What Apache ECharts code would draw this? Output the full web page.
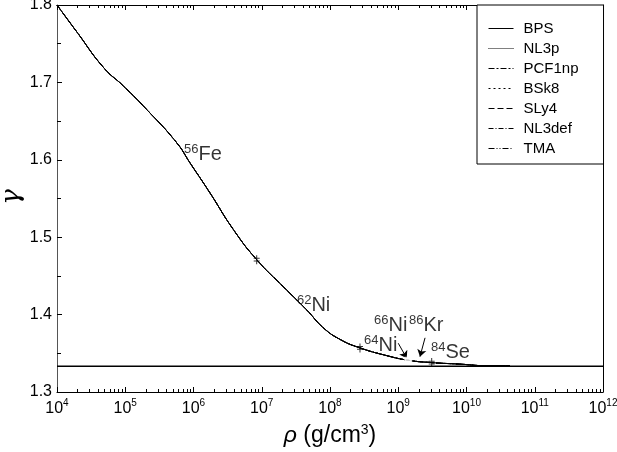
<!DOCTYPE html>
<html>
<head>
<meta charset="utf-8">
<script src="https://cdn.jsdelivr.net/npm/echarts@6/dist/echarts.min.js"></script>
<style>
  html, body { margin: 0; padding: 0; background: #fff; }
  #chart { width: 617px; height: 452px; }
</style>
</head>
<body>
<div id="chart"></div>
<script>
// adiabatic index along the outer crust
const rho = [1e4, 1.96e4, 4.83e4, 9.35e4, 2.06e5, 5.68e5, 8.89e5, 1.75e6, 3.83e6, 8.43e6,
  2.07e7, 4.56e7, 7.98e7, 1.40e8, 2.75e8, 6.78e8, 1.40e9, 3.09e9, 8.04e9, 1.98e10, 4.34e10];
const gamma = [1.800, 1.765, 1.719, 1.6955, 1.665, 1.622, 1.596, 1.557, 1.510, 1.471,
  1.436, 1.406, 1.383, 1.368, 1.357, 1.347, 1.341, 1.338, 1.336, 1.334, 1.334];

const models = ["BPS", "NL3p", "PCF1np", "BSk8", "SLy4", "NL3def", "TMA"];
const dashes = ["solid", [1, 1], [6, 2, 2, 2], [2, 3], [6, 3], [5, 2, 1, 2], [6, 2, 1, 2, 1, 2]];

const gamma43 = 4 / 3;
const rhoRange = [1e4, 1e12];

// composition change marks on the curve
const tickRho = [8.43e6, 2.75e8, 3.09e9];
const tickGamma = [1.471, 1.357, 1.338];
const boxRho = [1.40e9];
const boxGamma = [1.3405];

// nucleus labels
const labelText = [["56", "Fe"], ["62", "Ni"], ["66", "Ni"], ["86", "Kr"], ["64", "Ni"], ["84", "Se"]];
const labelRho = [7.26e5, 3.28e7, 4.42e8, 1.44e9, 3.15e8, 3.02e9];
const labelGamma = [1.607, 1.4114, 1.3855, 1.3855, 1.3596, 1.3505];

// arrows from 66Ni and 86Kr
const arrowFrom = [[1.0e9, 1.363], [2.47e9, 1.370]];
const arrowTo = [[1.33e9, 1.3437], [2.08e9, 1.3457]];

const font = "Liberation Sans, Arial, sans-serif";

const chart = echarts.init(document.getElementById("chart"), null, { renderer: "canvas" });

const curve = rho.map((r, i) => [r, gamma[i]]);

const series = models.map((m, i) => ({
  name: m,
  type: "line",
  data: curve,
  symbol: "none",
  smooth: 0.5,
  lineStyle: { color: "#000", width: 1, type: dashes[i] },
  itemStyle: { color: "#000" },
  z: 3
}));

series.push({
  name: "gamma43",
  type: "line",
  data: rhoRange.map(r => [r, gamma43]),
  symbol: "none",
  lineStyle: { color: "#000", width: 1.5 },
  z: 2
});

series.push({
  type: "scatter",
  data: tickRho.map((r, i) => [r, tickGamma[i]]),
  symbol: "path://M2.5,0h1v10h-1z M0,3h6v1h-6z M0,6h6v1h-6z",
  symbolSize: [6, 9],
  itemStyle: { color: "#000" },
  z: 4
});

series.push({
  type: "scatter",
  data: boxRho.map((r, i) => [r, boxGamma[i]]),
  symbol: "emptyRect",
  symbolSize: 6,
  itemStyle: { color: "#fff", borderColor: "#000", borderWidth: 1 },
  z: 4
});

series.push({
  type: "lines",
  coordinateSystem: "cartesian2d",
  data: arrowFrom.map((p, i) => ({ coords: [p, arrowTo[i]] })),
  symbol: ["none", "arrow"],
  symbolSize: 7,
  lineStyle: { color: "#000", width: 1, opacity: 1 },
  z: 4
});

series.push({
  type: "scatter",
  data: labelRho.map((r, i) => ({ value: [r, labelGamma[i]], txt: labelText[i] })),
  symbolSize: 0,
  label: {
    show: true,
    position: "right",
    distance: 0,
    color: "#000",
    formatter: p => "{s|" + p.data.txt[0] + "}{m|" + p.data.txt[1] + "}",
    rich: {
      s: { fontFamily: font, fontSize: 13, color: "#000", padding: [0, 0, 10, 0] },
      m: { fontFamily: font, fontSize: 20, color: "#000" }
    }
  },
  z: 5
});

const xTickLabel = v => {
  const e = Math.round(Math.log10(v));
  return "{b|10}{e|" + e + "}";
};

chart.setOption({
  animation: false,
  backgroundColor: "#fff",
  grid: { left: 57, right: 14, top: 5, bottom: 60, outerBoundsMode: "none", containLabel: false },
  graphic: [
    {
      type: "text",
      x: 12,
      y: 197,
      rotation: Math.PI / 2,
      style: {
        text: "γ",
        font: "italic 26px 'DejaVu Serif', serif",
        fill: "#000",
        align: "center",
        verticalAlign: "middle"
      }
    }
  ],
  legend: {
    data: models,
    orient: "vertical",
    left: 477,
    top: 5,
    itemWidth: 25,
    itemHeight: 14,
    itemGap: 5,
    padding: [16, 25, 8, 11],
    borderColor: "#000",
    borderWidth: 1,
    backgroundColor: "#fff",
    itemStyle: { opacity: 0 },
    lineStyle: { width: 1 },
    textStyle: { fontFamily: font, fontSize: 15, lineHeight: 14, color: "#000", padding: [0, 0, 0, 5] }
  },
  xAxis: [
    {
      type: "log",
      logBase: 10,
      min: 1e4,
      max: 1e12,
      name: "{i|ρ} (g/cm{sup|3})",
      nameLocation: "middle",
      nameGap: 31,
      nameTextStyle: {
        fontFamily: font, fontSize: 23, color: "#000",
        rich: {
          i: { fontFamily: font, fontSize: 23, fontStyle: "italic", color: "#000" },
          sup: { fontFamily: font, fontSize: 14, color: "#000", padding: [0, 0, 12, 0] }
        }
      },
      axisLine: { lineStyle: { color: "#000", width: 1 } },
      axisTick: { inside: true, length: 5, lineStyle: { color: "#000" } },
      minorTick: { show: true, splitNumber: 9, length: 3, lineStyle: { color: "#000" } },
      splitLine: { show: false },
      axisLabel: {
        formatter: xTickLabel,
        margin: 6,
        rich: {
          b: { fontFamily: font, fontSize: 16, color: "#000" },
          e: { fontFamily: font, fontSize: 10, color: "#000", padding: [0, 0, 12, 0] }
        }
      }
    },
    {
      type: "log",
      logBase: 10,
      min: 1e4,
      max: 1e12,
      position: "top",
      axisLine: { lineStyle: { color: "#000", width: 1 } },
      axisTick: { inside: true, length: 5, lineStyle: { color: "#000" } },
      minorTick: { show: true, splitNumber: 9, length: 3, lineStyle: { color: "#000" } },
      splitLine: { show: false },
      axisLabel: { show: false }
    }
  ],
  yAxis: [
    {
      type: "value",
      min: 1.3,
      max: 1.8,
      interval: 0.1,
      axisLine: { lineStyle: { color: "#555", width: 1 } },
      axisTick: { inside: true, length: 5, lineStyle: { color: "#000" } },
      minorTick: { show: true, splitNumber: 2, length: 4, lineStyle: { color: "#000" } },
      splitLine: { show: false },
      axisLabel: {
        fontFamily: font, fontSize: 16, color: "#000", margin: 5,
        formatter: v => v.toFixed(1)
      }
    },
    {
      type: "value",
      min: 1.3,
      max: 1.8,
      interval: 0.1,
      position: "right",
      axisLine: { show: true, lineStyle: { color: "#000", width: 1 } },
      axisTick: { show: false },
      splitLine: { show: false },
      axisLabel: { show: false }
    }
  ],
  series: series
});
</script>
</body>
</html>
